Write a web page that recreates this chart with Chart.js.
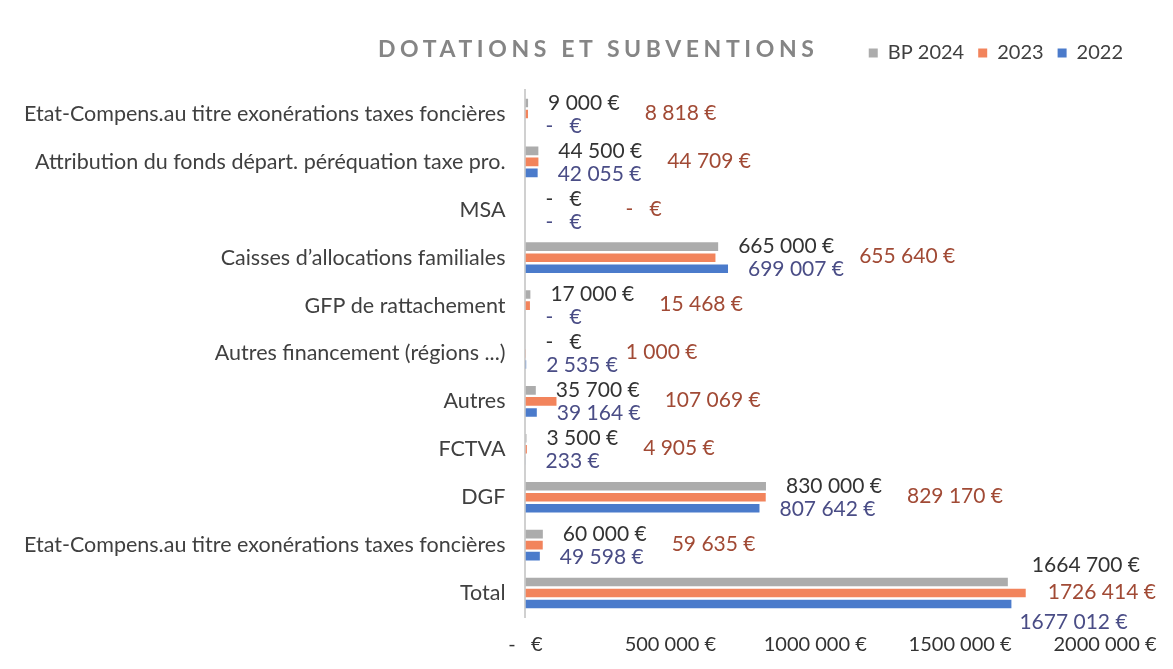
<!DOCTYPE html>
<html>
<head>
<meta charset="utf-8">
<script src="https://cdn.jsdelivr.net/npm/chart.js@4.4.1/dist/chart.umd.min.js"></script>
<style>
html,body{margin:0;padding:0;background:#fff;}
#wrap{position:relative;width:1173px;height:669px;}
#title{position:absolute;left:378px;top:34px;font-family:Lato,"Liberation Sans",sans-serif;font-size:23px;font-weight:bold;letter-spacing:4.6px;color:#858585;}
</style>
</head>
<body>
<div id="wrap">
<div id="title">DOTATIONS ET SUBVENTIONS</div>
<canvas id="c" width="1173" height="669"></canvas>
</div>
<script>
const categories=[
  'Etat-Compens.au titre exonérations taxes foncières',
  'Attribution du fonds départ. péréquation taxe pro.',
  'MSA',
  'Caisses d\u2019allocations familiales',
  'GFP de rattachement',
  'Autres financement (régions ...)',
  'Autres',
  'FCTVA',
  'DGF',
  'Etat-Compens.au titre exonérations taxes foncières',
  'Total'
];
const bp2024=[9000,44500,0,665000,17000,0,35700,3500,830000,60000,1664700];
const y2023=[8818,44709,0,655640,15468,1000,107069,4905,829170,59635,1726414];
const y2022=[0,42055,0,699007,0,2535,39164,233,807642,49598,1677012];
const xTicks=[0,500000,1000000,1500000,2000000];

function euro(v){
  if(v===0)return '-   \u20ac';
  if(v<1000)return v+' \u20ac';
  const k=Math.floor(v/1000),r=v%1000;
  return k+' '+String(r).padStart(3,'0')+' \u20ac';
}

const FONT='Lato, "Liberation Sans", sans-serif';
const labelColors=['#333333','#a14a35','#4a4d86'];

// nudge the legend up and right so it sits on the title line
const legendShift={
  id:'legendShift',
  afterLayout(chart){
    const lg=chart.legend;
    lg.left+=32;lg.right+=32;
    lg.top-=17;lg.bottom-=17;
  }
};

const valueLabels={
  id:'valueLabels',
  afterDatasetsDraw(chart){
    const ctx=chart.ctx;
    ctx.save();
    ctx.font='21px '+FONT;
    ctx.textBaseline='middle';
    ctx.textAlign='left';
    const W=chart.width;
    const n=categories.length;
    for(let j=0;j<n;j++){
      const e0=chart.getDatasetMeta(0).data[j];
      const e1=chart.getDatasetMeta(1).data[j];
      const e2=chart.getDatasetMeta(2).data[j];
      const t0=euro(bp2024[j]);
      // 2023 label sits further right, clear of the BP label, pulled back when it would leave the canvas
      const t1=euro(y2023[j]);
      let x1=Math.max(e1.x+100,e0.x+20+ctx.measureText(t0).width+25);
      let pushed=false;
      if(x1+ctx.measureText(t1).width>W-15){x1=e1.x+22;pushed=true;}
      ctx.fillStyle=labelColors[1];
      ctx.fillText(t1,x1,e1.y-1);
      ctx.fillStyle=labelColors[0];
      ctx.fillText(t0,e0.x+(pushed?24:20),e0.y+(pushed?-17:0));
      ctx.fillStyle=labelColors[2];
      ctx.fillText(euro(y2022[j]),e2.x+(pushed?8:20),e2.y+(pushed?18:1));
    }
    ctx.restore();
  }
};

new Chart(document.getElementById('c'),{
  type:'bar',
  data:{
    labels:categories,
    datasets:[
      {label:'BP 2024',data:bp2024,backgroundColor:'#acacac'},
      {label:'2023',data:y2023,backgroundColor:'#f2845c'},
      {label:'2022',data:y2022,backgroundColor:'#4b7bcb'}
    ]
  },
  options:{
    indexAxis:'y',
    responsive:false,
    animation:false,
    layout:{padding:{top:46,right:68,bottom:-4,left:4}},
    datasets:{bar:{categoryPercentage:0.69,barPercentage:0.78}},
    plugins:{
      title:{display:false},
      tooltip:{enabled:false},
      legend:{
        position:'top',
        align:'end',
        labels:{boxWidth:9,boxHeight:9,padding:14,color:'#404040',font:{family:FONT,size:20}}
      }
    },
    scales:{
      x:{
        min:0,max:2000000,
        afterBuildTicks(ax){ax.ticks=xTicks.map(v=>({value:v}));},
        grid:{display:false,drawTicks:false},
        border:{display:false},
        ticks:{padding:16,color:'#333333',font:{family:FONT,size:20},callback:v=>euro(v)}
      },
      y:{
        grid:{display:false,drawTicks:false},
        border:{display:true,color:'#d0d0d0',width:2},
        ticks:{padding:20,color:'#404040',font:{family:FONT,size:21.5}}
      }
    }
  },
  plugins:[legendShift,valueLabels]
});
</script>
</body>
</html>
